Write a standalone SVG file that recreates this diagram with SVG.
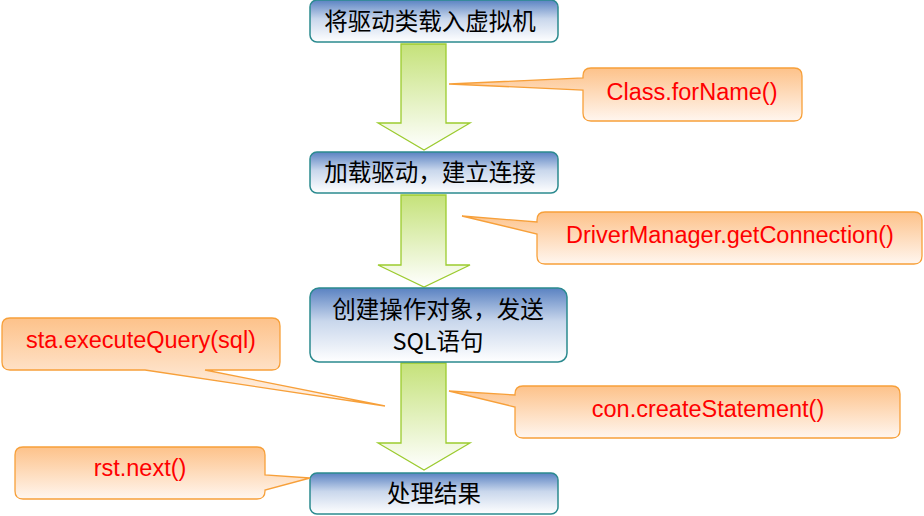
<svg xmlns="http://www.w3.org/2000/svg" width="924" height="516" viewBox="0 0 924 516">
<defs>
<linearGradient id="ng" x1="0" y1="0" x2="0" y2="1"><stop offset="0" stop-color="#5a82c2"/><stop offset="0.45" stop-color="#c9d7ec"/><stop offset="1" stop-color="#ffffff"/></linearGradient>
<linearGradient id="ag" x1="0" y1="0" x2="0" y2="1"><stop offset="0" stop-color="#c5e27a"/><stop offset="1" stop-color="#ffffff"/></linearGradient>
<linearGradient id="cg" x1="0" y1="0" x2="0" y2="1"><stop offset="0" stop-color="#fdc28a"/><stop offset="1" stop-color="#fff6ef"/></linearGradient>
<style>
.n{fill:url(#ng);stroke:#2b8a8f;stroke-width:1.5}
.a{fill:url(#ag);stroke:#9ccb2f;stroke-width:1.3}
.c{fill:url(#cg);stroke:#f7a03a;stroke-width:1.3}
.t{font-family:"Noto Sans CJK SC","Liberation Sans",sans-serif;font-size:23.5px;fill:#000;text-anchor:middle}
.r{font-family:"Liberation Sans",sans-serif;font-size:23.5px;fill:#ff0000;text-anchor:middle}
</style>
</defs>
<g id="connectors">
<path class="a" d="M401,44 H446 V123 H470 L424,150 L378,123 H401 Z"/>
<path class="a" d="M401,195 H446 V265 H470 L424,287 L378,265 H401 Z"/>
<path class="a" d="M401,363 H446 V443 H470 L424,470 L378,443 H401 Z"/>
</g>
<g id="node1"><rect class="n" x="310" y="0" width="248" height="42" rx="7"/><text class="t" x="430" y="30">将驱动类载入虚拟机</text></g>
<g id="node2"><rect class="n" x="310" y="152" width="248" height="41" rx="7"/><text class="t" x="430" y="181">加载驱动，建立连接</text></g>
<g id="node3"><rect class="n" x="310" y="288" width="257" height="74" rx="9"/><text class="t" x="438" y="318">创建操作对象，发送</text><text class="t" x="438" y="350">SQL语句</text></g>
<g id="node4"><rect class="n" x="310" y="473" width="248" height="41" rx="7"/><text class="t" x="434" y="502">处理结果</text></g>
<g id="callout1"><path class="c" d="M591,68 H794 Q802,68 802,76 V113 Q802,121 794,121 H591 Q583,121 583,113 V90 L449,84 L583,78 V76 Q583,68 591,68 Z"/><text class="r" x="692" y="100">Class.forName()</text></g>
<g id="callout2"><path class="c" d="M545,212 H914 Q922,212 922,220 V256 Q922,264 914,264 H545 Q537,264 537,256 V234 L462,216 L537,222 V220 Q537,212 545,212 Z"/><text class="r" x="730" y="243">DriverManager.getConnection()</text></g>
<g id="callout3"><path class="c" d="M10,318 H272 Q280,318 280,326 V362 Q280,370 272,370 H205 L385,406 L145,370 H10 Q2,370 2,362 V326 Q2,318 10,318 Z"/><text class="r" x="141" y="348">sta.executeQuery(sql)</text></g>
<g id="callout4"><path class="c" d="M523,386 H892 Q900,386 900,394 V430 Q900,438 892,438 H523 Q515,438 515,430 V407 L449,391 L515,395 V394 Q515,386 523,386 Z"/><text class="r" x="708" y="417">con.createStatement()</text></g>
<g id="callout5"><path class="c" d="M23,447 H257 Q265,447 265,455 V475 L310,478 L265,490 V491 Q265,499 257,499 H23 Q15,499 15,491 V455 Q15,447 23,447 Z"/><text class="r" x="140" y="476">rst.next()</text></g>
</svg>
